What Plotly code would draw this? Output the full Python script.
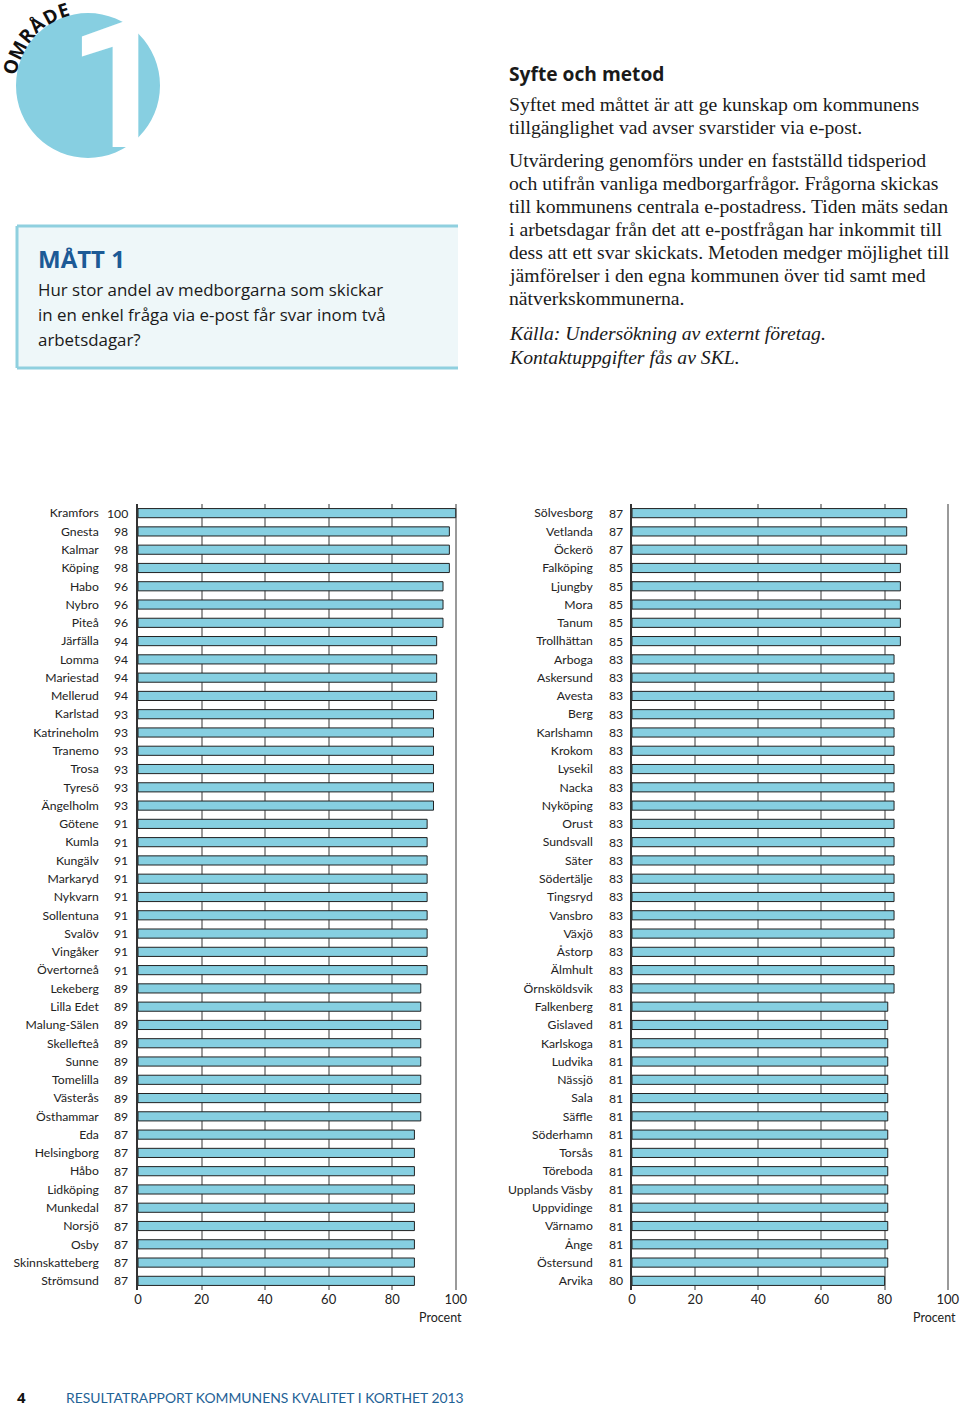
import math
import plotly.graph_objects as go

W, H = 960, 1406

left_names = ["Kramfors", "Gnesta", "Kalmar", "Köping", "Habo", "Nybro", "Piteå", "Järfälla",
              "Lomma", "Mariestad", "Mellerud", "Karlstad", "Katrineholm", "Tranemo", "Trosa",
              "Tyresö", "Ängelholm", "Götene", "Kumla", "Kungälv", "Markaryd", "Nykvarn",
              "Sollentuna", "Svalöv", "Vingåker", "Övertorneå", "Lekeberg", "Lilla Edet",
              "Malung-Sälen", "Skellefteå", "Sunne", "Tomelilla", "Västerås", "Östhammar", "Eda",
              "Helsingborg", "Håbo", "Lidköping", "Munkedal", "Norsjö", "Osby",
              "Skinnskatteberg", "Strömsund"]
left_values = [100, 98, 98, 98, 96, 96, 96, 94, 94, 94, 94, 93, 93, 93, 93, 93, 93,
               91, 91, 91, 91, 91, 91, 91, 91, 91, 89, 89, 89, 89, 89, 89, 89, 89,
               87, 87, 87, 87, 87, 87, 87, 87, 87]

right_names = ["Sölvesborg", "Vetlanda", "Öckerö", "Falköping", "Ljungby", "Mora", "Tanum",
               "Trollhättan", "Arboga", "Askersund", "Avesta", "Berg", "Karlshamn", "Krokom",
               "Lysekil", "Nacka", "Nyköping", "Orust", "Sundsvall", "Säter", "Södertälje",
               "Tingsryd", "Vansbro", "Växjö", "Åstorp", "Älmhult", "Örnsköldsvik", "Falkenberg",
               "Gislaved", "Karlskoga", "Ludvika", "Nässjö", "Sala", "Säffle", "Söderhamn",
               "Torsås", "Töreboda", "Upplands Väsby", "Uppvidinge", "Värnamo", "Ånge",
               "Östersund", "Arvika"]
right_values = [87, 87, 87, 85, 85, 85, 85, 85] + [83] * 19 + [81] * 15 + [80]

x_ticks = [0, 20, 40, 60, 80, 100]

BAR = "#86cfe1"
EDGE = "#222222"
GRID = "#9a9a9a"
BLUE = "#1c5a96"
LBLUE = "#8fd0df"
SANS = "Lato"
SERIF = "Liberation Serif"


def px(x):
    return x / W


def py(y):
    return 1 - y / H


fig = go.Figure()
fig.add_trace(go.Bar(x=left_values, y=left_names, orientation="h", width=0.5,
                     marker=dict(color=BAR, line=dict(color=EDGE, width=1)),
                     xaxis="x", yaxis="y", showlegend=False, hoverinfo="skip"))
fig.add_trace(go.Bar(x=right_values, y=right_names, orientation="h", width=0.5,
                     marker=dict(color=BAR, line=dict(color=EDGE, width=1)),
                     xaxis="x2", yaxis="y2", showlegend=False, hoverinfo="skip"))

ydom = [py(1290), py(504)]
xcommon = dict(range=[0, 100.4], tickvals=x_ticks, showgrid=True, gridcolor=GRID, gridwidth=1.5,
               zeroline=False, showline=False, ticks="", automargin=False,
               tickfont=dict(family=SANS, size=13, color="#222"), fixedrange=True)
ycommon = dict(showline=True, linecolor="#333", linewidth=1.5, showgrid=False, ticks="",
               automargin=False, ticklabelstandoff=35,
               tickfont=dict(family=SANS, size=12.2, color="#222"),
               range=[42.5, -0.5], domain=ydom, fixedrange=True)

fig.update_layout(
    width=W, height=H, margin=dict(l=0, r=0, t=0, b=0, pad=0, autoexpand=False),
    paper_bgcolor="white", plot_bgcolor="white", bargap=0.5,
    xaxis=dict(domain=[px(138), px(457)], anchor="y", **xcommon),
    yaxis=dict(anchor="x", categoryorder="array", categoryarray=left_names, **ycommon),
    xaxis2=dict(domain=[px(632), px(949)], anchor="y2", **xcommon),
    yaxis2=dict(anchor="x2", categoryorder="array", categoryarray=right_names, **ycommon),
)

ann = []
for n, v in zip(left_names, left_values):
    ann.append(dict(x=px(130), y=n, xref="paper", yref="y", text=str(v), showarrow=False,
                    xanchor="right", yanchor="middle", font=dict(family=SANS, size=12.2, color="#222")))
for n, v in zip(right_names, right_values):
    ann.append(dict(x=px(625), y=n, xref="paper", yref="y2", text=str(v), showarrow=False,
                    xanchor="right", yanchor="middle", font=dict(family=SANS, size=12.2, color="#222")))

ann.append(dict(x=px(440), y=py(1317), xref="paper", yref="paper", text="Procent", showarrow=False,
                xanchor="center", yanchor="middle", font=dict(family=SANS, size=12.5, color="#222")))
ann.append(dict(x=px(934), y=py(1317), xref="paper", yref="paper", text="Procent", showarrow=False,
                xanchor="center", yanchor="middle", font=dict(family=SANS, size=12.5, color="#222")))


def line(text, x, y, size, family, color="#1a1a1a", anchor="left"):
    ann.append(dict(x=px(x), y=py(y), xref="paper", yref="paper", text=text, showarrow=False,
                    xanchor=anchor, yanchor="middle", font=dict(family=family, size=size, color=color)))


line("<b>Syfte och metod</b>", 507, 74, 19.2, "Open Sans")
body1 = ["Syftet med måttet är att ge kunskap om kommunens",
         "tillgänglighet vad avser svarstider via e-post."]
for i, t in enumerate(body1):
    line(t, 507, 104 + i * 23, 19.7, SERIF)
body2 = ["Utvärdering genomförs under en fastställd tidsperiod",
         "och utifrån vanliga medborgarfrågor. Frågorna skickas",
         "till kommunens centrala e-postadress. Tiden mäts sedan",
         "i arbetsdagar från det att e-postfrågan har inkommit till",
         "dess att ett svar skickats. Metoden medger möjlighet till",
         "jämförelser i den egna kommunen över tid samt med",
         "nätverkskommunerna."]
for i, t in enumerate(body2):
    line(t, 507, 160 + i * 23, 19.7, SERIF)
line("<i>Källa: Undersökning av externt företag.</i>", 507, 333, 19.7, SERIF)
line("<i>Kontaktuppgifter fås av SKL.</i>", 507, 357, 19.7, SERIF)

line("<b>MÅTT 1</b>", 36, 258, 24, "Open Sans", color=BLUE)
box = ["Hur stor andel av medborgarna som skickar",
       "in en enkel fråga via e-post får svar inom två",
       "arbetsdagar?"]
for i, t in enumerate(box):
    line(t, 36, 289 + i * 25, 16.9, "Open Sans", color="#1a1a1a")

ann.append(dict(x=px(119), y=py(84), xref="paper", yref="paper", text="<b>1</b>", showarrow=False,
                xanchor="center", yanchor="middle", font=dict(family="Roboto", size=182, color="white")))

# OMRÅDE along an arc around the circle
word = ["O", "M", "R", "Å", "D", "E"]
adv = [0.78, 0.90, 0.65, 0.68, 0.72, 0.56]
cum, s = [], 0.0
for a in adv:
    cum.append(s + a / 2)
    s += a
cx, cy, rr = 88, 85, 79
th0, th1 = math.radians(-167), math.radians(-108)
for ch, c in zip(word, cum):
    t = th0 + (th1 - th0) * (c - cum[0]) / (cum[-1] - cum[0])
    lx, ly = cx + rr * math.cos(t), cy + rr * math.sin(t)
    ann.append(dict(x=px(lx), y=py(ly), xref="paper", yref="paper", text="<b>" + ch + "</b>",
                    showarrow=False, textangle=math.degrees(t) + 90, xanchor="center",
                    yanchor="middle", font=dict(family="Open Sans", size=19, color="#111")))

line("<b>4</b>", 15, 1397, 15, "Open Sans", color="#111")
line("RESULTATRAPPORT KOMMUNENS KVALITET I KORTHET 2013", 64, 1397, 13.9, SANS, color="#1f6296")

shapes = [
    dict(type="circle", xref="paper", yref="paper", x0=px(16), x1=px(160), y0=py(158), y1=py(13),
         fillcolor="#87cfe1", line=dict(width=0), layer="below"),
    dict(type="rect", xref="paper", yref="paper", x0=px(17), x1=px(458), y0=py(369), y1=py(225),
         fillcolor="#eef7f9", line=dict(width=0), layer="below"),
    dict(type="line", xref="paper", yref="paper", x0=px(17), x1=px(458), y0=py(226), y1=py(226),
         line=dict(color=LBLUE, width=3)),
    dict(type="line", xref="paper", yref="paper", x0=px(17), x1=px(458), y0=py(368), y1=py(368),
         line=dict(color=LBLUE, width=3)),
    dict(type="line", xref="paper", yref="paper", x0=px(17), x1=px(17), y0=py(368), y1=py(226),
         line=dict(color=LBLUE, width=3)),
]

fig.update_layout(annotations=ann, shapes=shapes)
fig.write_html("out.html", config={"displayModeBar": False},
               post_script="document.body.style.margin='0';document.body.style.overflow='hidden';")
